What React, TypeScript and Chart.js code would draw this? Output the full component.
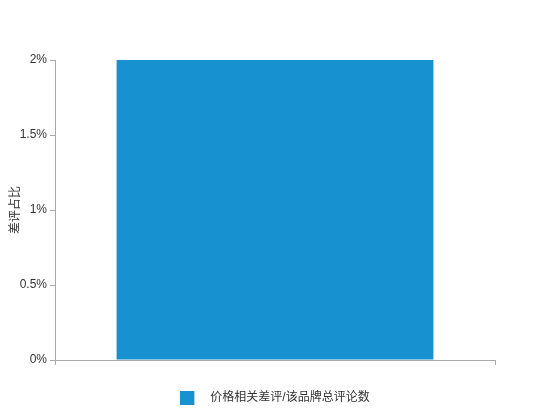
import { useRef, useEffect } from 'react';
import { Chart } from 'chart.js/auto';

const categories = [''];
const seriesLabel = '价格相关差评/该品牌总评论数';
const seriesValues = [2];
const yTicks = [0, 0.5, 1, 1.5, 2];
const yTitle = '差评占比';

const FONT = '"Liberation Sans", "Noto Sans CJK SC", sans-serif';
const BAR_COLOR = '#1891d0';

// legend marker: 14px square on a wider transparent canvas so the text sits further right
const makeMarker = () => {
    const c = document.createElement('canvas');
    c.width = 24;
    c.height = 14;
    const ctx = c.getContext('2d');
    ctx.fillStyle = BAR_COLOR;
    ctx.fillRect(0, 0, 14, 14);
    return c;
};

const App = () => {
    const canvasRef = useRef(null);
    const chartRef = useRef(null);

    useEffect(() => {
        if (!canvasRef.current) return;
        if (chartRef.current) chartRef.current.destroy();

        const marker = makeMarker();

        chartRef.current = new Chart(canvasRef.current, {
            type: 'bar',
            data: {
                labels: categories,
                datasets: [{
                    label: seriesLabel,
                    data: seriesValues,
                    backgroundColor: BAR_COLOR,
                    borderWidth: 0,
                    barPercentage: 0.72,
                    categoryPercentage: 1,
                    pointStyle: marker
                }]
            },
            options: {
                animation: false,
                responsive: false,
                maintainAspectRatio: false,
                layout: { padding: { top: 60, right: 8, bottom: 6, left: 8 } },
                plugins: {
                    tooltip: { enabled: false },
                    legend: {
                        position: 'bottom',
                        labels: {
                            usePointStyle: true,
                            pointStyleWidth: 24,
                            boxHeight: 14,
                            padding: 14,
                            color: '#333',
                            font: { family: FONT, size: 12 }
                        }
                    }
                },
                scales: {
                    x: {
                        afterFit: (axis) => { axis.height = 18; },
                        border: { color: '#aaa' },
                        grid: { drawOnChartArea: false, tickLength: 5, color: '#aaa', offset: true },
                        ticks: { display: false }
                    },
                    y: {
                        min: 0,
                        max: 2,
                        afterFit: (axis) => { axis.width = 47; },
                        afterBuildTicks: (axis) => { axis.ticks = yTicks.map(v => ({ value: v })); },
                        border: { color: '#aaa' },
                        grid: { drawOnChartArea: false, tickLength: 5, color: '#aaa' },
                        ticks: {
                            color: '#333',
                            padding: 3,
                            font: { family: FONT, size: 12 },
                            callback: (v) => v + '%'
                        },
                        title: {
                            display: true,
                            text: yTitle,
                            color: '#333',
                            padding: 0,
                            font: { family: FONT, size: 12 }
                        }
                    },
                    // empty right-hand space, keeps the legend centred on the canvas
                    yRight: {
                        position: 'right',
                        min: 0,
                        max: 2,
                        afterFit: (axis) => { axis.width = 47; },
                        border: { display: false },
                        grid: { display: false },
                        ticks: { display: false }
                    }
                }
            }
        });

        return () => { if (chartRef.current) chartRef.current.destroy(); };
    }, []);

    return (
        <div style={{ position: 'fixed', left: 0, top: 0, width: 550, height: 420, background: '#fff' }}>
            <canvas ref={canvasRef} width={550} height={420}></canvas>
        </div>
    );
};

export default App;
